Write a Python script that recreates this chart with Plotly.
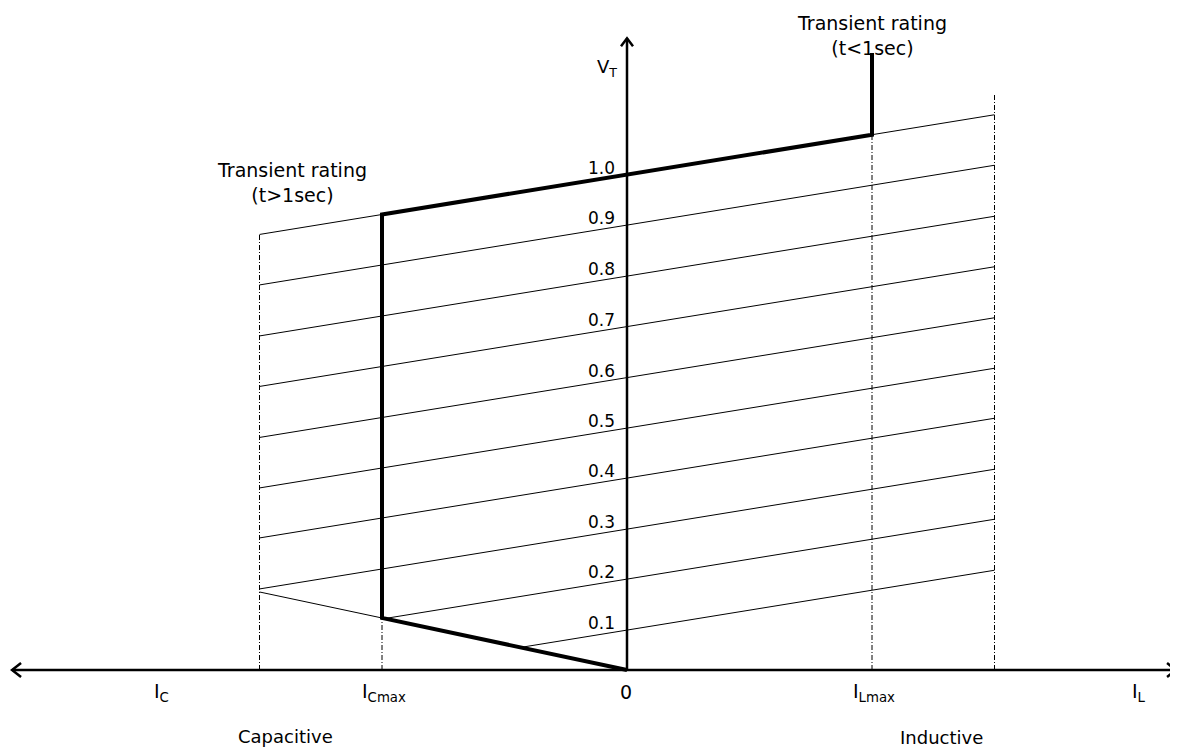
import plotly.graph_objects as go

# ---------------- data (per-unit values) ----------------
volt_labels = ["0.1", "0.2", "0.3", "0.4", "0.5", "0.6", "0.7", "0.8", "0.9", "1.0"]
line_intercepts = [0.079, 0.180, 0.279, 0.380, 0.479, 0.579, 0.680, 0.780, 0.881, 0.981]
line_slope = 0.079          # slope of the constant-reference characteristics
cap_slope = 0.103           # V = -cap_slope * I on the capacitive limit
i_cmax = -1.0
i_lmax = 1.0
i_c_limit = -1.5
i_l_limit = 1.5
transient_top_v = 1.222
right_limit_top_v = 1.14
x_axis_ends = [-2.51, 2.241]
y_axis_top = 1.251

current_labels = ["I<sub>C</sub>", "I<sub>Cmax</sub>", "0", "I<sub>Lmax</sub>", "I<sub>L</sub>"]
current_label_x = [-1.90, -0.99, -0.005, 1.01, 2.09]

# ---------------- figure geometry ----------------
PAGE_OFFSET = 8             # default body margin of the html page
W, H = 1178 - PAGE_OFFSET, 749 - PAGE_OFFSET
SCREEN_X0, SCREEN_Y0 = 627, 670
X0_PX, Y0_PX = SCREEN_X0 - PAGE_OFFSET, SCREEN_Y0 - PAGE_OFFSET
PX_PER_I, PX_PER_V = 245.0, 505.0
xr = [-X0_PX / PX_PER_I, (W - X0_PX) / PX_PER_I]
yr = [-(H - Y0_PX) / PX_PER_V, Y0_PX / PX_PER_V]


def px_x(p):
    return p / PX_PER_I


def px_y(p):
    return p / PX_PER_V


BLACK = "#000000"
FONT = "DejaVu Sans"
fig = go.Figure()


def add_line(xs, ys, width=1.0, dash="solid"):
    fig.add_trace(go.Scatter(x=xs, y=ys, mode="lines",
                             line=dict(color=BLACK, width=width, dash=dash),
                             hoverinfo="skip", showlegend=False))


def v_on(c, i):
    return c + line_slope * i


# thin characteristic lines
for c in line_intercepts:
    start = max(i_c_limit, -c / (line_slope + cap_slope))
    add_line([start, i_l_limit], [v_on(c, start), v_on(c, i_l_limit)], width=1.0)

# thin extension of capacitive limit line
add_line([i_c_limit, i_cmax], [-cap_slope * i_c_limit, -cap_slope * i_cmax], width=1.0)

# dash-dot vertical limits
dd = "5px,2px,1px,2px"
top_c = line_intercepts[-1]
add_line([i_c_limit, i_c_limit], [0, v_on(top_c, i_c_limit)], width=1.0, dash=dd)
add_line([i_cmax, i_cmax], [0, -cap_slope * i_cmax], width=1.0, dash=dd)
add_line([i_lmax, i_lmax], [0, v_on(top_c, i_lmax)], width=1.0, dash=dd)
add_line([i_l_limit, i_l_limit], [0, right_limit_top_v], width=1.0, dash=dd)

# thick operating characteristic
add_line([i_lmax, i_lmax, i_cmax, i_cmax, 0],
         [transient_top_v, v_on(top_c, i_lmax), v_on(top_c, i_cmax), -cap_slope * i_cmax, 0],
         width=4.0)

# axes
add_line(x_axis_ends, [0, 0], width=2.5)
add_line([0, 0], [0, y_axis_top], width=2.5)

# open chevron arrow heads
ax, ay = px_x(9), px_y(7)
add_line([x_axis_ends[0] + ax, x_axis_ends[0], x_axis_ends[0] + ax], [ay, 0, -ay], width=2.5)
add_line([x_axis_ends[1] - ax, x_axis_ends[1], x_axis_ends[1] - ax], [ay, 0, -ay], width=2.5)
vx, vy = px_x(6), px_y(8)
add_line([-vx, 0, vx], [y_axis_top - vy, y_axis_top, y_axis_top - vy], width=2.5)

annotations = []
# voltage labels
for lab, c in zip(volt_labels, line_intercepts):
    annotations.append(dict(x=px_x(-26), y=c, text=lab, showarrow=False,
                            xanchor="center", yanchor="middle", yshift=7,
                            font=dict(family=FONT, size=17, color=BLACK)))
# current labels
for lab, x in zip(current_labels, current_label_x):
    annotations.append(dict(x=x, y=0, text=lab, showarrow=False,
                            xanchor="center", yanchor="middle", yshift=-22,
                            font=dict(family=FONT, size=19, color=BLACK)))
# V_T label
annotations.append(dict(x=px_x(-20), y=px_y(602), text="V<sub>T</sub>", showarrow=False,
                        xanchor="center", yanchor="middle",
                        font=dict(family=FONT, size=18, color=BLACK)))
# region labels
annotations.append(dict(x=px_x(285 - SCREEN_X0), y=0, text="Capacitive", showarrow=False,
                        xanchor="center", yanchor="middle", yshift=-66,
                        font=dict(family=FONT, size=18, color=BLACK)))
annotations.append(dict(x=px_x(941 - SCREEN_X0), y=0, text="Inductive", showarrow=False,
                        xanchor="center", yanchor="middle", yshift=-67,
                        font=dict(family=FONT, size=18, color=BLACK)))
# transient rating labels
annotations.append(dict(x=i_lmax, y=transient_top_v, text="Transient rating<br>(t<1sec)",
                        showarrow=False, xanchor="center", yanchor="bottom", yshift=-8,
                        font=dict(family=FONT, size=19, color=BLACK)))
annotations.append(dict(x=px_x(292 - SCREEN_X0), y=v_on(top_c, i_c_limit),
                        text="Transient rating<br>(t>1sec)",
                        showarrow=False, xanchor="center", yanchor="bottom", yshift=26,
                        font=dict(family=FONT, size=19, color=BLACK)))

fig.update_layout(
    width=W, height=H,
    margin=dict(l=0, r=0, t=0, b=0),
    paper_bgcolor="white", plot_bgcolor="white",
    xaxis=dict(range=xr, visible=False, fixedrange=True),
    yaxis=dict(range=yr, visible=False, fixedrange=True),
    showlegend=False,
    annotations=annotations,
)

fig.write_html("out.html")
